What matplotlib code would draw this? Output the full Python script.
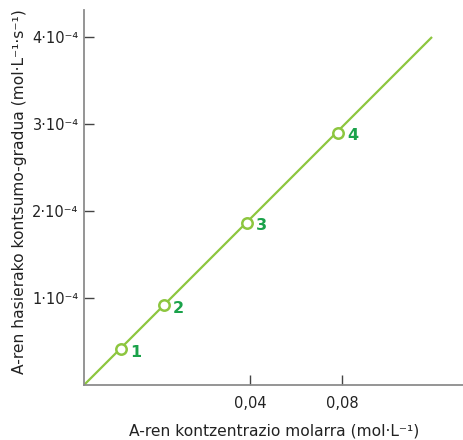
import matplotlib
matplotlib.use("Agg")
import matplotlib.pyplot as plt

# data (x in mol/L, y in mol/(L*s))
conc = [-0.0162, 0.0026, 0.0386, 0.0784]
rate = [0.41e-4, 0.915e-4, 1.86e-4, 2.90e-4]
point_labels = ["1", "2", "3", "4"]
line_x = [-0.0322, 0.1191]
line_y = [0.0, 4.0e-4]

xticks = [0.04, 0.08]
xtick_labels = ["0,04", "0,08"]
yticks = [1e-4, 2e-4, 3e-4, 4e-4]
ytick_labels = ["1·10⁻⁴", "2·10⁻⁴", "3·10⁻⁴", "4·10⁻⁴"]

green_line = "#8dc63f"
green_text = "#1aa24a"
axis_gray = "#8c8c8c"

plt.rcParams['font.family'] = ['DejaVu Sans']

fig = plt.figure(figsize=(4.64, 4.4), dpi=100)
ax = fig.add_axes([84 / 464, 55 / 440, 380 / 464, 375 / 440])

ax.plot(line_x, line_y, color=green_line, lw=1.6, solid_capstyle='butt', zorder=2)
ax.plot(conc, rate, 'o', ms=7.5, mfc='white', mec=green_line, mew=1.8, zorder=3)
for x, y, t in zip(conc, rate, point_labels):
    ax.annotate(t, (x, y), xytext=(6.5, -2), textcoords='offset points',
                ha='left', va='center', color=green_text, fontsize=11.5, fontweight='bold')

ax.set_xlim(-0.0322, 0.1330)
ax.set_ylim(0, 4.31e-4)

ax.set_xticks(xticks)
ax.set_xticklabels(xtick_labels)
ax.set_yticks(yticks)
ax.set_yticklabels(ytick_labels)
ax.tick_params(direction='in', length=7, width=1, color='#444444',
               labelsize=10.5, labelcolor='#222222')
ax.tick_params(axis='x', pad=8)
ax.tick_params(axis='y', pad=4)

for s in ['top', 'right']:
    ax.spines[s].set_visible(False)
for s in ['left', 'bottom']:
    ax.spines[s].set_color(axis_gray)
    ax.spines[s].set_linewidth(1.3)

ax.set_xlabel("A-ren kontzentrazio molarra (mol·L⁻¹)", fontsize=11.2, color='#222222', labelpad=9)
ax.set_ylabel("A-ren hasierako kontsumo-gradua (mol·L⁻¹·s⁻¹)", fontsize=11.2, color='#222222', labelpad=4)
ax.yaxis.label.set_y(0.515)

fig.savefig("out.png", dpi=100)
